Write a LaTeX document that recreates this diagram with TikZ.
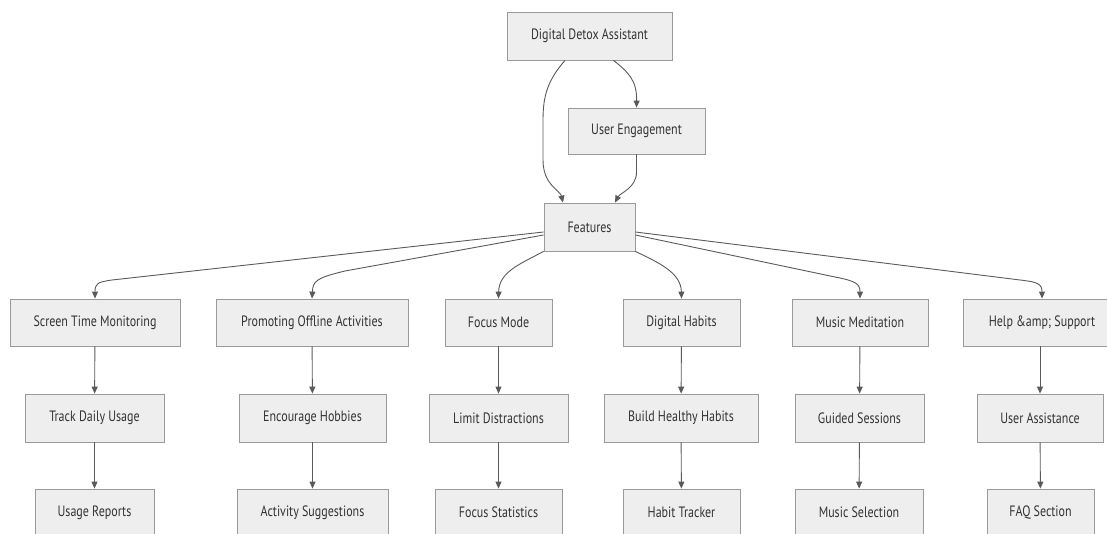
\documentclass[tikz,border=0pt]{standalone}
\usepackage{fontspec}
\setmainfont{PT Sans}[FakeStretch=0.8]
\usetikzlibrary{arrows.meta}
\definecolor{boxfill}{HTML}{EEEEEE}
\definecolor{boxline}{HTML}{9A9A9A}
\definecolor{edgecol}{HTML}{5A5A5A}
\definecolor{txt}{HTML}{333333}
\tikzset{
  box/.style={draw=boxline, fill=boxfill, line width=0.8pt, minimum height=47pt,
    inner sep=0pt, text=txt, font=\fontsize{15}{18}\selectfont},
  link/.style={draw=edgecol, line width=0.9pt, -{Triangle[length=7pt,width=6pt]}},
}
\begin{document}
\begin{tikzpicture}[x=1pt, y=-1pt]
\useasboundingbox (0,0) rectangle (1107,534);
\begin{scope}
\clip (0,0) rectangle (1107,534);
% top of the tree
\node[box, minimum width=165pt, minimum height=48pt] (dda) at (589.5,36) {Digital Detox Assistant};
\node[box, minimum width=137pt, minimum height=46pt] (ue) at (636.5,131) {User Engagement};
\node[box, minimum width=91pt, minimum height=48pt] (f) at (589.5,227) {Features};

% first row
\node[box, minimum width=170pt] (s1) at (95,322.5) {Screen Time Monitoring};
\node[box, minimum width=192pt] (p1) at (312,322.5) {Promoting Offline Activities};
\node[box, minimum width=107pt] (fm) at (498.5,322.5) {Focus Mode};
\node[box, minimum width=117pt] (dh) at (681.5,322.5) {Digital Habits};
\node[box, minimum width=136pt] (mm) at (860,322.5) {Music Meditation};
\node[box, minimum width=158pt] (hs) at (1042,322.5) {Help \&amp; Support};

% second row
\node[box, minimum width=139pt, minimum height=48pt] (s2) at (94.5,418) {Track Daily Usage};
\node[box, minimum width=147pt, minimum height=48pt] (p2) at (312.5,418) {Encourage Hobbies};
\node[box, minimum width=139pt, minimum height=48pt] (fm2) at (498.5,418) {Limit Distractions};
\node[box, minimum width=154pt, minimum height=48pt] (dh2) at (681,418) {Build Healthy Habits};
\node[box, minimum width=129pt, minimum height=48pt] (mm2) at (859.5,418) {Guided Sessions};
\node[box, minimum width=126pt, minimum height=48pt] (hs2) at (1040,418) {User Assistance};

% third row
\node[box, minimum width=119pt] (s3) at (94.5,512.5) {Usage Reports};
\node[box, minimum width=151pt] (p3) at (312.5,512.5) {Activity Suggestions};
\node[box, minimum width=127pt] (fm3) at (498.5,512.5) {Focus Statistics};
\node[box, minimum width=117pt] (dh3) at (681.5,512.5) {Habit Tracker};
\node[box, minimum width=128pt] (mm3) at (859,512.5) {Music Selection};
\node[box, minimum width=107pt] (hs3) at (1040.5,512.5) {FAQ Section};

% links from the assistant
\draw[link] ([xshift=-24.5pt]dda.south) .. controls (548,80) and (543,95) .. (543,120)
  -- (543,160) .. controls (543,185) and (560,190) .. ([xshift=-26.5pt]f.north);
\draw[link] ([xshift=24pt]dda.south) .. controls (628,72) and (637,80) .. (ue.north);
\draw[link] (ue.south) -- (636.5,172) .. controls (636.5,188) and (620,193) .. ([xshift=25.5pt]f.north);

% links from features to the first row
\draw[link] ([yshift=-5pt]f.west) -- (112,280) .. controls (97,282) and (95,284) .. (s1.north);
\draw[link] ([yshift=-8pt]f.west) -- (345,271) .. controls (316,278) and (313,281) .. (p1.north);
\draw[link] (f.south west) .. controls (520,264) and (499,272) .. (fm.north);
\draw[link] (f.south east) .. controls (657,262) and (681,272) .. (dh.north);
\draw[link] ([yshift=-8pt]f.east) -- (835,277) .. controls (856,281) and (860,284) .. (mm.north);
\draw[link] ([yshift=-5pt]f.east) -- (1020,280) .. controls (1038,282) and (1042,284) .. (hs.north);

% vertical chains
\foreach \a/\b in {s1/s2, s2/s3, p1/p2, p2/p3, fm/fm2, fm2/fm3, dh/dh2, dh2/dh3, mm/mm2, mm2/mm3}
  \draw[link] (\a) -- (\b);
\draw[link] ([xshift=-2pt]hs.south) -- (hs2.north);
\draw[link] (hs2) -- (hs3);
\end{scope}
\end{tikzpicture}
\end{document}
